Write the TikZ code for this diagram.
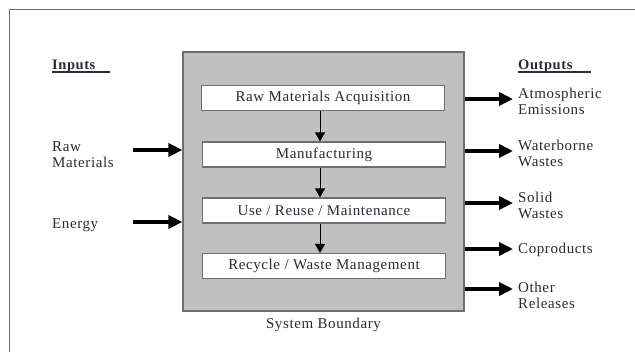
\documentclass[tikz,border=0pt]{standalone}
\usepackage{fontspec}
\setmainfont{Liberation Serif}[LetterSpace=4]
\usetikzlibrary{arrows.meta}
\definecolor{boundfill}{HTML}{C0C0C0}
\definecolor{boundline}{HTML}{6E6E6E}
\definecolor{txt}{HTML}{2A2A3A}
\tikzset{
  stage/.style={draw=boundline, line width=1.2pt, fill=white, minimum width=243pt, minimum height=25pt, inner sep=0pt, font=\fontsize{15}{16}\selectfont, text=txt},
  flow/.style={line width=1pt, -{Triangle[length=9pt,width=10pt]}},
  bigflow/.style={line width=4pt, -{Triangle[length=14pt,width=13pt]}},
  lbl/.style={anchor=west, align=left, inner sep=0pt, font=\fontsize{15}{16}\selectfont, text=txt},
  head/.style={anchor=west, inner sep=0pt, font=\bfseries\fontsize{14.5}{16}\selectfont, text=txt}
}
\begin{document}
\begin{tikzpicture}[x=1pt, y=-1pt]
\useasboundingbox (0,0) rectangle (635,351);
% page frame
\draw[boundline, line width=1pt] (9,352) -- (9,9) -- (636,9);
% system boundary
\node[draw=boundline, line width=1.2pt, fill=boundfill, minimum width=281pt, minimum height=259pt, inner sep=0pt] (sys) at (323.5,181.5) {};
\node[font=\fontsize{15}{16}\selectfont, text=txt] (sysl) at (323.5,325) {System Boundary};
% life-cycle stages
\node[stage] (s1) at (323,98)  {Raw Materials Acquisition};
\node[stage] (s2) at (324,154.5) {Manufacturing};
\node[stage] (s3) at (324,210.5) {Use / Reuse / Maintenance};
\node[stage] (s4) at (324,266) {Recycle / Waste Management};
\draw[flow] (s1.south -| 320,0) -- (s2.north -| 320,0);
\draw[flow] (s2.south -| 320,0) -- (s3.north -| 320,0);
\draw[flow] (s3.south -| 320,0) -- (s4.north -| 320,0);
% inputs
\node[head] (inh) at (52,66) {Inputs};
\draw[txt, line width=1.2pt] (52,72) -- (110,72);
\node[lbl] (raw) at (52,155) {Raw\\Materials};
\node[lbl] (en) at (52,225) {Energy};
\coordinate (rawin) at (133,150);
\coordinate (enin) at (133,222);
\draw[bigflow] (rawin) -- (rawin -| sys.west);
\draw[bigflow] (enin) -- (enin -| sys.west);
% outputs
\node[head] (outh) at (518,66) {Outputs};
\draw[txt, line width=1.2pt] (518,72) -- (591,72);
\coordinate (o1) at (513,99);
\coordinate (o2) at (513,151);
\coordinate (o3) at (513,203);
\coordinate (o4) at (513,249);
\coordinate (o5) at (513,289);
\foreach \o in {o1,o2,o3,o4,o5} \draw[bigflow] (\o -| sys.east) -- (\o);
\node[lbl] (l1) at (518,101) {Atmospheric\\Emissions};
\node[lbl] (l2) at (518,153) {Waterborne\\Wastes};
\node[lbl] (l3) at (518,205) {Solid\\Wastes};
\node[lbl] (l4) at (518,250) {Coproducts};
\node[lbl] (l5) at (518,295) {Other\\Releases};
\end{tikzpicture}
\end{document}
